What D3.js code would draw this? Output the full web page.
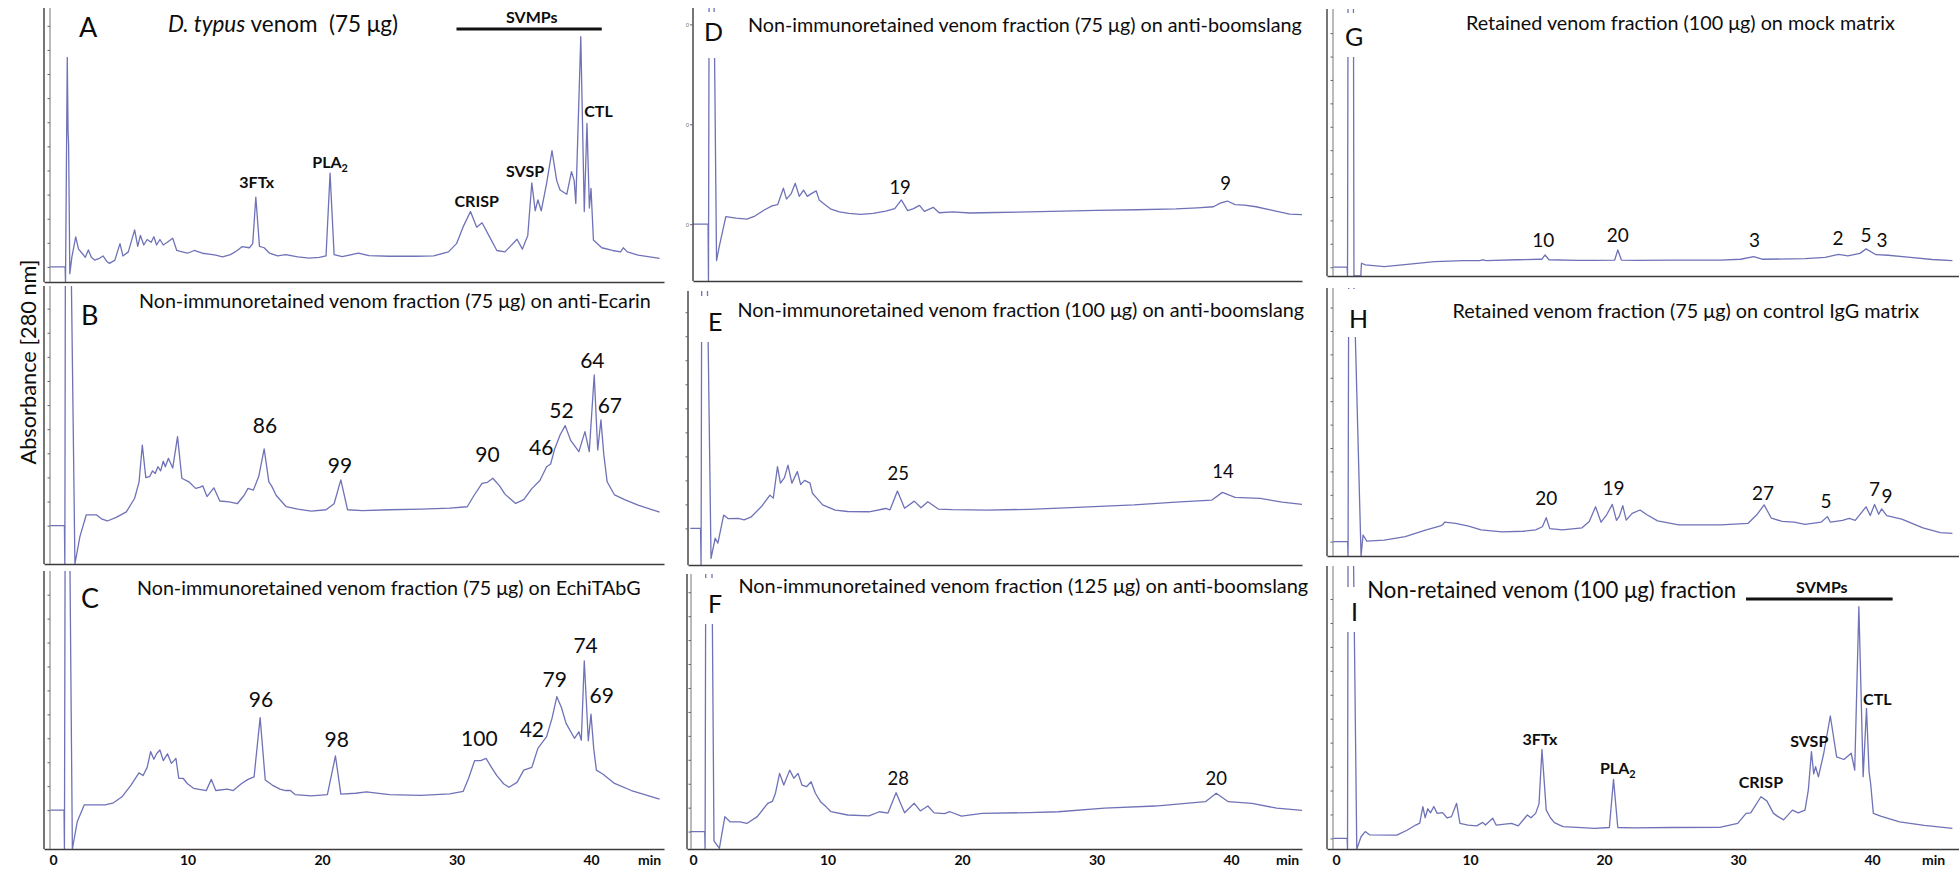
<!DOCTYPE html>
<html>
<head>
<meta charset="utf-8">
<script src="https://cdn.jsdelivr.net/npm/d3@7"></script>
<style>
body { margin: 0; background: #fff; }
svg { display: block; font-family: Lato, "Open Sans", sans-serif; }
</style>
</head>
<body>
<svg id="chart" width="1959" height="871"></svg>
<script>
// chromatograms: [retention time (min), absorbance (% of panel full scale)]
const traceA = [[-0.2,5.5],[0.9,5.5],[0.93,0],[1.06,82],[1.12,55],[1.16,50],[1.2,30],[1.25,3],[1.4,9],[1.69,16.5],[1.9,12],[2.16,10.5],[2.4,9],[2.63,11.7],[2.85,9],[3.1,8],[3.4,8.5],[3.72,9.5],[4.0,7.5],[4.2,6.8],[4.6,8],[4.98,14],[5.2,9.5],[5.6,11],[6.07,19],[6.3,13],[6.5,17],[6.75,13.5],[7.0,15.5],[7.3,14.5],[7.5,16.5],[7.7,13.5],[7.95,15.5],[8.2,13.5],[8.5,14.5],[8.9,16],[9.2,11.5],[9.6,11],[10.0,10.5],[10.5,11.5],[11.1,10.5],[11.6,10.2],[12.1,9.8],[12.6,9.2],[13.2,10],[13.7,11.5],[14.05,12.9],[14.6,12.5],[14.85,14],[15.08,31],[15.35,13],[15.7,12.5],[16.1,10.5],[16.7,9.5],[17.3,10],[18.2,9.2],[19.05,8.7],[19.8,9],[20.3,9.5],[20.6,39.7],[20.9,10],[21.5,9.3],[22.7,10.5],[23.5,9.6],[25,9.4],[27,9.4],[28.3,9.5],[29.4,11],[30.0,14],[30.5,20.2],[31.04,25.7],[31.5,20],[31.9,21.6],[32.4,17],[33.0,11.5],[33.6,11],[34.0,13],[34.5,15.6],[34.9,12],[35.3,17],[35.6,36.2],[35.85,26],[36.05,30],[36.3,26],[36.7,36],[37.1,47.9],[37.45,37],[37.7,33.6],[38.2,32],[38.55,40.3],[38.75,37],[38.87,28.7],[39.24,89.5],[39.5,25.7],[39.7,57.9],[39.88,27],[40.0,34.2],[40.18,15.3],[40.8,12.5],[41.6,11.5],[42.2,11],[42.4,12.5],[42.7,11],[43.5,9.8],[45.1,8.6]];
const traceB = [[-0.2,14],[0.85,14],[0.88,0],[0.92,110],[1.35,110],[1.63,0],[2.0,10],[2.47,17.9],[3.25,17.9],[3.6,16.5],[4.04,15.7],[4.7,17],[5.45,19],[6.07,24],[6.4,30],[6.64,43.4],[6.9,31.5],[7.2,32],[7.4,34],[7.6,33],[7.8,35.5],[8.0,34],[8.2,37.5],[8.35,35.5],[8.58,38.6],[8.9,35],[9.26,46.5],[9.58,31.3],[10.1,30],[10.6,27.6],[10.9,28],[11.14,28.5],[11.45,24.6],[11.96,27.8],[12.4,23],[13.1,22.7],[13.7,22],[14.2,25],[14.5,27.6],[14.9,27],[15.3,32],[15.7,42],[16.05,30],[16.25,28.5],[16.6,25],[17.34,20.9],[18.2,20],[19.2,19.3],[20.3,19.8],[20.9,22],[21.4,30.7],[21.9,19.8],[23.0,19.5],[25.0,19.8],[27.4,20],[29.5,20.4],[30.8,20.9],[31.3,25],[31.9,29.4],[32.3,29.8],[32.7,31.3],[33.2,28.5],[33.6,25.5],[34.4,22.1],[35.0,23.5],[35.6,27.5],[36.2,30.5],[36.7,35.5],[37.0,36.5],[37.3,42],[37.7,47.1],[38.08,50.5],[38.5,45],[39.1,41],[39.55,48.3],[39.87,41],[40.24,69],[40.5,41.6],[40.74,52.6],[40.95,40],[41.2,30],[41.75,25.2],[42.5,23.5],[43.5,21.5],[45.1,18.9]];
const traceC = [[-0.2,14.3],[0.82,14.3],[0.85,0],[0.9,110],[1.25,110],[1.44,0],[1.8,10],[2.32,16.2],[3.88,16.2],[4.5,17],[5.13,19.2],[5.8,23.5],[6.39,28],[6.7,27],[7.0,30],[7.26,35.8],[7.5,33],[7.7,35],[7.95,36.4],[8.2,32.5],[8.51,35],[8.8,31.5],[9.14,33.3],[9.35,26],[9.67,26],[10.0,24],[10.45,22.3],[11.4,21.5],[11.77,25.6],[12.1,21.5],[12.96,22],[13.4,21.5],[14.0,24],[14.5,25.6],[14.95,26.5],[15.4,48.3],[15.78,25.4],[16.3,23.5],[16.87,22],[17.3,21.5],[17.65,21.5],[18.0,20],[19.2,19.5],[20.4,20],[21.0,34.2],[21.4,20.2],[22.5,20.5],[23.3,21],[25,20],[27.35,19.7],[29.5,20.3],[30.5,21.2],[30.9,26],[31.35,32.5],[31.8,32.5],[32.2,33.3],[32.6,30],[33.0,27],[33.5,24],[33.9,22.7],[34.5,24.5],[35.0,29],[35.6,30],[36.05,37],[36.7,41.3],[37.1,48],[37.46,56],[37.8,52],[38.15,46.2],[38.77,40.7],[39.1,43.1],[39.28,40],[39.5,69.2],[39.8,39.8],[40.0,49.6],[40.2,37],[40.4,29],[40.9,27.5],[41.75,24.1],[43.0,21.5],[45.1,18.3]];
const traceD = [[-0.2,20.8],[1.12,20.8],[1.15,0],[1.2,110],[1.55,110],[1.75,7.5],[1.95,12.6],[2.44,23.6],[3.2,23],[4.0,22.7],[4.6,23.8],[5.3,26],[5.87,27.5],[6.3,28],[6.72,34],[6.95,30],[7.3,32],[7.6,35.8],[7.9,31],[8.22,33.3],[8.5,31],[8.8,32],[9.16,33],[9.38,29.7],[9.8,28],[10.26,26.3],[10.88,25.3],[11.6,24.8],[12.45,24.4],[13.4,24.8],[14.33,25.6],[15.0,26.5],[15.49,29.7],[15.96,25.8],[16.4,26.5],[16.84,27.7],[17.2,25.5],[17.86,27],[18.3,25],[19.33,25.3],[20.6,24.9],[22.5,25.1],[24.97,25.3],[27.5,25.6],[29.96,25.9],[33,26.1],[35.9,26.4],[37.5,26.8],[38.7,27.2],[39.2,28.5],[39.73,29.3],[40.3,28],[41.0,27.8],[41.86,27.2],[43.0,26],[44.36,24.5],[45.4,24.3]];
const traceE = [[-0.2,13.4],[0.56,13.4],[0.6,0],[0.65,110],[1.05,110],[1.34,2.4],[1.65,9.8],[1.85,8],[2.28,18.3],[2.6,17],[3.37,17.1],[3.8,16.5],[4.3,17.5],[5.09,21.4],[5.72,25.6],[5.97,24.5],[6.28,36],[6.5,30],[6.8,32],[7.06,36.6],[7.35,30],[7.76,34.2],[8.0,29.5],[8.3,31],[8.7,30],[8.88,26.3],[9.2,24.5],[9.64,22],[10.57,20.1],[11.5,19.6],[13.08,19.5],[14.33,20.7],[14.65,20.2],[15.2,27.1],[15.73,20.8],[16.45,23.4],[16.95,21],[17.46,23.2],[18.24,20.5],[19.3,20.3],[21.84,20.1],[24.97,20.4],[28.1,21],[32.8,22],[35.9,23],[38.58,23.8],[39.36,26.6],[40.3,24.8],[42.18,24.4],[43.8,23],[45.6,22]];
const traceF = [[-0.2,6.4],[0.87,6.4],[0.9,0],[0.95,110],[1.4,110],[1.56,3],[1.96,0.2],[2.37,11.9],[2.75,10],[3.5,10],[4.0,9.4],[4.78,11.9],[5.56,16.8],[5.9,17.5],[6.13,20.5],[6.44,27.8],[6.75,23.5],[7.19,29],[7.5,26],[7.81,27.8],[8.1,23.5],[8.44,22.9],[8.78,24.7],[9.1,20.5],[9.48,17.4],[9.9,15.5],[10.26,13.7],[11.5,12.5],[13.08,12.2],[13.86,13.7],[14.5,13.2],[15.1,20.7],[15.73,13.3],[16.45,16.8],[16.9,14],[17.46,15.8],[17.93,13.3],[18.7,13],[19.1,13.7],[19.96,12.1],[21.5,13.1],[24.97,13.4],[27.16,13.7],[30.6,15],[34.35,15.8],[38.1,17.4],[38.9,20.5],[39.8,17.4],[41.55,16.8],[43.4,15],[45.46,14.1]];
const traceG = [[-0.2,3.3],[0.83,3.3],[0.86,0],[0.9,110],[1.3,110],[1.34,0],[1.85,0],[1.9,4.8],[2.2,4.2],[3.6,3.5],[5.5,4.5],[7.37,5.4],[9.5,5.8],[10.7,5.8],[10.97,6.1],[11.2,5.8],[13.5,6.1],[15.2,6.3],[15.37,6.3],[15.6,7.9],[15.9,6.1],[18,5.9],[19.3,5.9],[20.8,6],[21.03,9.8],[21.3,6],[22.5,5.9],[25,6],[28.7,6],[30.2,6.3],[31.17,7.3],[31.8,6.3],[35,6.5],[36.5,7],[37.5,8.1],[38.2,7.6],[39.1,8.5],[39.56,10.2],[40.3,8],[41.2,7.8],[42.86,7],[44.5,6.2],[46,5.8]];
const traceH = [[-0.2,5.4],[0.87,5.4],[0.9,0],[0.95,110],[1.3,110],[1.87,0],[2.02,7.9],[2.3,5.6],[3.6,6],[5.17,7.3],[6.74,9.8],[7.8,11.3],[7.99,11.9],[8.1,12.7],[8.93,12.3],[9.9,11.2],[10.82,9.8],[12.39,9.1],[14.0,9.3],[14.9,9.8],[15.4,11],[15.69,14.4],[15.95,10.3],[16.9,9.8],[18.36,10.6],[18.9,13],[19.37,18.5],[19.78,12.7],[20.2,15.5],[20.62,19.4],[20.93,13.4],[21.15,15],[21.4,18.9],[21.66,13.5],[22.1,16],[22.69,17.3],[23.2,15.5],[24.0,13.2],[25.58,11.7],[28.72,11.7],[30.76,12.3],[31.4,15.5],[31.95,19.2],[32.49,14.2],[33.3,13],[34.2,12.7],[35.0,11.9],[36.2,12.7],[36.67,14.8],[36.9,12.7],[37.8,13.4],[38.3,14.1],[38.75,13.4],[39.56,18.5],[39.87,15.2],[40.19,19.4],[40.5,15.7],[40.72,17.7],[41.1,15.2],[42.22,13.9],[43.8,10.6],[45.1,8.8],[46,8.5]];
const traceI = [[-0.2,3.9],[0.83,3.9],[0.86,0],[0.9,110],[1.3,110],[1.55,0],[1.87,4.5],[2.18,6.4],[2.5,5.2],[4.54,5.1],[5.3,6.9],[5.95,8.8],[6.25,9.5],[6.48,15.6],[6.65,11.5],[6.85,14.8],[7.05,13.3],[7.3,15.6],[7.55,13.1],[7.95,13.4],[8.3,11.4],[8.62,11.9],[9.0,16.8],[9.25,9.4],[9.85,8.8],[10.5,8.5],[10.95,9.8],[11.15,8.8],[11.7,11.3],[11.95,8.8],[13.1,9.4],[13.6,8.5],[14.28,12.5],[14.55,11.5],[14.9,13.1],[15.15,16.6],[15.37,36.6],[15.69,14.3],[16.0,11.5],[16.3,9.7],[16.94,8.2],[19.3,7.6],[20.4,7.9],[20.71,25.6],[21.03,7.9],[22.2,7.8],[25,7.9],[28.72,8],[29.98,9.4],[30.6,13.1],[30.95,13.3],[31.71,19.2],[32.15,17.7],[32.65,13.1],[32.96,12],[33.4,10.7],[34.06,14.3],[34.5,13.3],[35.0,14.3],[35.25,21.7],[35.48,35.8],[35.65,27.6],[35.79,30.3],[36.0,26.5],[36.4,35.2],[36.89,48.9],[37.36,33.9],[37.9,32.9],[38.45,35.2],[38.71,29],[39.02,89.1],[39.34,26.6],[39.59,51.7],[39.78,28.4],[39.9,24],[40.1,13.1],[40.7,12],[42.06,10],[43.9,8.7],[46,7.6]];

// peak annotations: [text, time, absorbance]
const labelsA = [['3FTx',15.15,34.3],['PLA|2',20.6,41.6],['CRISP',31.5,27.4],['SVSP',35.1,38.3],['CTL',40.56,60.2],['SVMPs',35.6,94.5]];
const labelsB = [['86',15.76,47.7],['99',21.34,33.2],['90',32.3,37.3],['46',36.3,39.8],['52',37.8,53.2],['64',40.1,71.4],['67',41.4,55]];
const labelsC = [['96',15.46,52.3],['98',21.1,37.6],['100',31.7,37.9],['42',35.6,41.3],['79',37.3,59.7],['74',39.6,71.9],['69',40.8,53.6]];
const labelsD = [['19',15.4,31.8],['9',39.6,33.3]];
const labelsE = [['25',15.26,31.1],['14',39.4,31.8]];
const labelsF = [['28',15.26,23.5],['20',38.9,23.5]];
const labelsG = [['10',15.47,11],['20',21.03,12.9],['3',31.23,11],['2',37.46,11.7],['5',39.55,12.9],['3',40.75,11]];
const labelsH = [['20',15.69,19.2],['19',20.71,22.9],['27',31.87,21.1],['5',36.57,18.2],['7',40.19,22.7],['9',41.12,19.8]];
const labelsI = [['3FTx',15.22,38.2],['PLA|2',21.03,27.6],['CRISP',31.71,22.3],['SVSP',35.32,37.6],['CTL',40.4,52.9],['SVMPs',36.26,94.2]];
// SVMP range bars: [from, to, absorbance]
const svmpA = [30.0, 40.8, 92.3];
const svmpI = [30.6, 41.54, 91.9];

const timeTicks = [0, 10, 20, 30, 40];
const titleA = ['D. typus', ' venom  (75 μg)'];
const titleB = 'Non-immunoretained venom fraction (75 μg) on anti-Ecarin';
const titleC = 'Non-immunoretained venom fraction (75 μg) on EchiTAbG';
const titleD = 'Non-immunoretained venom fraction (75 μg) on anti-boomslang';
const titleE = 'Non-immunoretained venom fraction (100 μg) on anti-boomslang';
const titleF = 'Non-immunoretained venom fraction (125 μg) on anti-boomslang';
const titleG = 'Retained venom fraction (100 μg) on mock matrix';
const titleH = 'Retained venom fraction (75 μg) on control IgG matrix';
const titleI = 'Non-retained venom (100 μg) fraction';

const traceColor = '#6f72b7';
const axisColor = '#3c3c3c';
const textColor = '#0d0d0d';

const cols = [
	{x0: 53, k: 13.45, right: 664},
	{x0: 693, k: 13.45, right: 1302},
	{x0: 1336, k: 13.4, right: 1959}
];

const panels = [
	{id:'A', col:0, top:8, bottom:282, clipTop:8, axes:[44,50], trace:traceA, labels:labelsA, bold:true, bar:svmpA,
		title:titleA, tx:168, ty:31.7, tw:230, lx:79, ly:37, ls:27, numSize:16},
	{id:'B', col:0, top:290, bottom:564, clipTop:286, axes:[44,50], trace:traceB, labels:labelsB,
		title:titleB, tx:139, ty:308.3, tw:512, lx:81, ly:325, ls:27, numSize:21},
	{id:'C', col:0, top:577, bottom:849, clipTop:571, axes:[44,50], trace:traceC, labels:labelsC, xlabels:true,
		title:titleC, tx:137, ty:595, tw:504, lx:81, ly:608, ls:27, numSize:21},
	{id:'D', col:1, top:8, bottom:281, clipTop:8, axes:[693], trace:traceD, labels:labelsD, tiny:true,
		title:titleD, tx:748, ty:31.7, tw:554, lx:704, ly:41, ls:25, numSize:18.5, box:[700,12,25,46]},
	{id:'E', col:1, top:292, bottom:565, clipTop:291, axes:[688], trace:traceE, labels:labelsE,
		title:titleE, tx:737.5, ty:316.7, tw:567, lx:708, ly:331, ls:25, numSize:18.5, box:[697,296,26,46]},
	{id:'F', col:1, top:577, bottom:849, clipTop:574, axes:[687,691], trace:traceF, labels:labelsF, xlabels:true,
		title:titleF, tx:738.4, ty:593.3, tw:570, lx:708, ly:613, ls:25, numSize:18.5, box:[702,578,21,46]},
	{id:'G', col:2, top:10, bottom:276, clipTop:9, axes:[1327,1333], trace:traceG, labels:labelsG,
		title:titleG, tx:1466, ty:30, tw:429, lx:1345, ly:46, ls:25, numSize:19, box:[1343,13,28,44]},
	{id:'H', col:2, top:290, bottom:556, clipTop:288, axes:[1327,1333], trace:traceH, labels:labelsH,
		title:titleH, tx:1452.4, ty:318.3, tw:467, lx:1349, ly:327.5, ls:25, numSize:19, box:[1343,289,30,48]},
	{id:'I', col:2, top:577, bottom:849, clipTop:566, axes:[1327,1333], trace:traceI, labels:labelsI, bold:true, bar:svmpI, xlabels:true,
		title:titleI, tx:1367.3, ty:598.3, tw:369, lx:1351, ly:621, ls:25, numSize:16, box:[1343,587,18,45]}
];

const svg = d3.select('#chart');
const defs = svg.append('defs');

function fitWidth(sel, target){
	const w = sel.node().getComputedTextLength();
	const fs = parseFloat(sel.attr('font-size'));
	sel.attr('font-size', (fs * target / w).toFixed(2));
}

panels.forEach(p => {
	const c = cols[p.col];
	const left = p.axes[0];
	const x = d3.scaleLinear().domain([0, 40]).range([c.x0, c.x0 + 40 * c.k]);
	const y = d3.scaleLinear().domain([0, 100]).range([p.bottom, p.top]);
	const g = svg.append('g').attr('class', 'panel-' + p.id);

	defs.append('clipPath').attr('id', 'clip-' + p.id)
		.append('rect')
			.attr('x', left).attr('y', p.clipTop)
			.attr('width', c.right - left).attr('height', p.bottom - p.clipTop + 1);

	// chromatogram trace
	g.append('path')
		.datum(p.trace)
		.attr('clip-path', `url(#clip-${p.id})`)
		.attr('fill', 'none')
		.attr('stroke', traceColor)
		.attr('stroke-width', 1.3)
		.attr('stroke-linejoin', 'round')
		.attr('d', d3.line().x(d => x(d[0])).y(d => y(d[1])));

	// bottom axis
	const xa = x.copy().domain([x.invert(left), x.invert(c.right)]).range([left, c.right]);
	const xg = g.append('g')
		.attr('transform', `translate(0,${p.bottom})`)
		.call(d3.axisBottom(xa).tickValues(p.xlabels ? timeTicks : []).tickSize(0).tickSizeOuter(0).tickPadding(6));
	xg.select('.domain').attr('stroke', axisColor).attr('stroke-width', 1.6);
	xg.selectAll('text').attr('font-family', 'Lato, sans-serif').attr('font-size', 14)
		.attr('font-weight', 'bold').attr('fill', textColor);
	if(p.xlabels){
		g.append('text')
			.attr('x', c.right - (p.col == 2 ? 37 : 26)).attr('y', p.bottom + 16)
			.attr('font-size', 14).attr('font-weight', 'bold').attr('fill', textColor)
			.text('min');
	}

	// vertical axis lines with small ticks
	p.axes.forEach((ax, i) => {
		g.append('line')
			.attr('x1', ax).attr('x2', ax)
			.attr('y1', p.clipTop).attr('y2', p.bottom)
			.attr('stroke', i == 0 ? axisColor : '#777').attr('stroke-width', i == 0 ? 1.4 : 1);
	});
	const tickX = p.axes[p.axes.length - 1];
	const base = p.trace[0][1];
	const step = p.tiny ? 36.6 : 8.8;
	const tickVals = d3.range(base, 99, step);
	const ya = g.append('g')
		.attr('transform', `translate(${tickX},0)`)
		.call(d3.axisLeft(y).tickValues(tickVals).tickSize(p.tiny ? 3 : 2.5).tickFormat(p.tiny ? () => '0' : ''));
	ya.select('.domain').remove();
	ya.selectAll('line').attr('stroke', '#666');
	ya.selectAll('text').attr('font-size', 6).attr('fill', '#777').attr('x', -4);

	// panel letter (on a white patch covering the injection spike)
	if(p.box){
		g.append('rect')
			.attr('x', p.box[0]).attr('y', p.box[1]).attr('width', p.box[2]).attr('height', p.box[3])
			.attr('fill', '#fff');
	}
	g.append('text')
		.attr('x', p.lx).attr('y', p.ly)
		.attr('font-size', p.ls).attr('fill', textColor)
		.text(p.id);

	// title
	const t = g.append('text')
		.attr('x', p.tx).attr('y', p.ty)
		.attr('font-size', 20).attr('fill', textColor)
		.style('white-space', 'pre');
	if(Array.isArray(p.title)){
		t.append('tspan').attr('font-style', 'italic').text(p.title[0]);
		t.append('tspan').text(p.title[1]);
	}
	else
		t.text(p.title);
	fitWidth(t, p.tw);

	// peak labels
	p.labels.forEach(l => {
		const parts = l[0].split('|');
		const lt = g.append('text')
			.attr('x', x(l[1])).attr('y', y(l[2]))
			.attr('text-anchor', 'middle')
			.attr('font-size', p.numSize)
			.attr('font-weight', p.bold ? 'bold' : 'normal')
			.attr('fill', textColor)
			.text(parts[0]);
		if(parts.length > 1){
			lt.append('tspan').attr('font-size', p.numSize * 0.68).attr('dy', 4).text(parts[1]);
		}
	});

	if(p.bar){
		g.append('line')
			.attr('x1', x(p.bar[0])).attr('x2', x(p.bar[1]))
			.attr('y1', y(p.bar[2])).attr('y2', y(p.bar[2]))
			.attr('stroke', '#111').attr('stroke-width', 3);
	}
});

// shared y axis title
const yt = svg.append('text')
	.attr('transform', 'translate(36,362) rotate(-90)')
	.attr('text-anchor', 'middle')
	.attr('font-size', 20)
	.attr('fill', textColor)
	.text('Absorbance [280 nm]');
fitWidth(yt, 205);
</script>
</body>
</html>
